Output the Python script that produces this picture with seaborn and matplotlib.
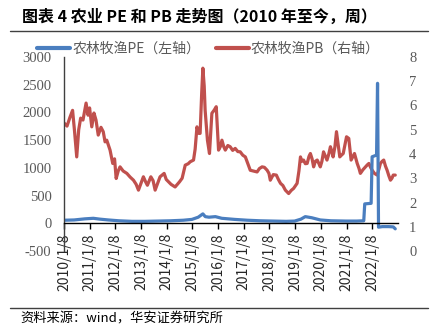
import matplotlib
matplotlib.use("Agg")
import matplotlib.pyplot as plt
from matplotlib.lines import Line2D
import seaborn as sns
import pandas as pd

sns.set_style("white")
plt.rcParams['font.family'] = ['Noto Sans CJK SC', 'DejaVu Sans']
plt.rcParams['axes.unicode_minus'] = False

# ---------------- data ----------------
pe_dates = ["2010-01-08", "2010-06-01", "2010-11-01", "2011-03-01", "2011-06-01", "2011-10-01",
            "2012-03-01", "2012-09-01", "2013-03-01", "2013-09-01", "2014-03-01", "2014-09-01",
            "2015-01-01", "2015-04-01", "2015-06-06", "2015-07-10", "2015-09-01", "2015-12-01",
            "2016-03-01", "2016-09-01", "2017-03-01", "2017-09-01", "2018-03-01", "2018-09-01",
            "2019-01-01", "2019-04-01", "2019-06-01", "2019-09-01", "2020-01-01", "2020-06-01",
            "2021-01-01", "2021-06-01", "2021-09-10", "2021-09-24", "2021-12-24", "2022-01-07",
            "2022-03-11", "2022-03-25", "2022-04-08", "2022-06-01", "2022-09-01", "2022-11-04",
            "2022-12-02"]
pe_values = [55, 60, 80, 90, 75, 60,
             45, 35, 35, 40, 45, 55,
             70, 110, 170, 120, 110, 120,
             90, 70, 55, 45, 40, 35,
             40, 75, 120, 100, 60, 45,
             40, 40, 45, 350, 360, 1200,
             1230, 2525, -70, -60, -60, -65,
             -100]

pb_dates = ["2010-01-08", "2010-02-20", "2010-04-01", "2010-05-10", "2010-06-05", "2010-07-08",
            "2010-08-05", "2010-09-02", "2010-10-05", "2010-11-18", "2010-12-16", "2011-01-07",
            "2011-02-07", "2011-03-10", "2011-04-08", "2011-05-10", "2011-06-18", "2011-07-20",
            "2011-08-15", "2011-09-08", "2011-10-25", "2011-12-02", "2011-12-28", "2012-01-20",
            "2012-02-18", "2012-03-15", "2012-04-28", "2012-06-20", "2012-08-05", "2012-09-22",
            "2012-10-30", "2012-12-02", "2013-01-08", "2013-02-10", "2013-03-14", "2013-04-08",
            "2013-05-27", "2013-06-28", "2013-07-27", "2013-09-02", "2013-10-05", "2013-12-02",
            "2014-01-01", "2014-02-03", "2014-03-10", "2014-05-07", "2014-07-08", "2014-08-15",
            "2014-09-28", "2014-11-10", "2014-12-08", "2015-01-24", "2015-02-16", "2015-03-14",
            "2015-04-08", "2015-04-28", "2015-05-20", "2015-06-06", "2015-06-25", "2015-07-08",
            "2015-08-10", "2015-09-08", "2015-10-12", "2015-11-14", "2015-12-13", "2016-01-15",
            "2016-02-09", "2016-03-03", "2016-03-29", "2016-04-20", "2016-05-26", "2016-06-28",
            "2016-08-03", "2016-09-08", "2016-10-15", "2016-11-18", "2016-12-25", "2017-01-30",
            "2017-03-07", "2017-04-10", "2017-05-22", "2017-07-16", "2017-08-18", "2017-09-25",
            "2017-10-28", "2017-12-06", "2018-01-01", "2018-01-20", "2018-03-03", "2018-04-16",
            "2018-05-15", "2018-06-14", "2018-07-18", "2018-08-22", "2018-10-08", "2018-11-14",
            "2018-12-17", "2019-02-05", "2019-03-03", "2019-03-25", "2019-04-14", "2019-05-08",
            "2019-06-02", "2019-06-28", "2019-07-24", "2019-08-13", "2019-09-06", "2019-09-28",
            "2019-10-23", "2019-11-18", "2019-12-13", "2020-01-01", "2020-01-24", "2020-02-16",
            "2020-03-14", "2020-04-05", "2020-05-01", "2020-05-24", "2020-06-14", "2020-07-01",
            "2020-07-27", "2020-08-18", "2020-09-06", "2020-10-04", "2020-10-27", "2020-11-22",
            "2020-12-17", "2021-01-08", "2021-02-09", "2021-03-14", "2021-04-09", "2021-05-01",
            "2021-06-09", "2021-07-05", "2021-07-24", "2021-08-29", "2021-10-05", "2021-10-30",
            "2021-11-22", "2021-12-16", "2022-01-08", "2022-02-09", "2022-03-20", "2022-04-16",
            "2022-05-05", "2022-05-30", "2022-06-21", "2022-07-16", "2022-08-08", "2022-09-02",
            "2022-09-25", "2022-10-16", "2022-11-03", "2022-12-02"]
pb_values = [5.28, 5.15, 5.5, 5.8, 5.0, 3.88,
             5.0, 5.48, 5.4, 6.1, 5.6, 5.9,
             5.12, 5.69, 5.4, 4.78, 5.1, 4.92,
             4.5, 4.57, 4.16, 3.61, 3.8, 2.99,
             3.3, 3.47, 3.3, 3.2, 3.05, 2.92,
             2.75, 2.51, 2.8, 3.06, 2.85, 2.71,
             3.06, 2.9, 2.51, 2.8, 3.06, 3.2,
             2.95, 2.85, 2.75, 2.64, 2.85, 3.0,
             3.54, 3.6, 3.68, 3.75, 4.2, 5.12,
             4.85, 4.85, 6.5, 7.54, 6.8, 5.81,
             4.57, 4.02, 5.68, 5.81, 5.95, 4.16,
             4.3, 4.57, 4.3, 4.16, 4.35, 4.3,
             4.15, 4.23, 4.1, 4.09, 3.95, 3.88,
             3.6, 3.33, 3.3, 3.26, 3.4, 3.47,
             3.45, 3.33, 3.2, 2.92, 3.15, 3.13,
             2.95, 2.79, 2.7, 2.51, 2.37, 2.5,
             2.58, 2.79, 3.3, 3.88, 3.7, 3.75,
             3.6, 3.61, 3.9, 4.02, 3.8, 3.47,
             3.7, 3.75, 3.6, 3.47, 3.7, 4.09,
             3.9, 3.75, 4.0, 4.3, 4.1, 3.88,
             4.3, 4.92, 4.5, 3.88, 3.95, 4.02,
             4.4, 4.71, 4.64, 3.75, 3.9, 4.02,
             3.61, 3.4, 3.2, 3.35, 3.47, 3.55,
             3.61, 3.45, 3.33, 3.2, 3.13, 3.4,
             3.61, 3.7, 3.75, 3.5, 3.33, 3.1,
             2.92, 3.0, 3.13, 3.13]

tick_dates = ["2010-01-08", "2011-01-08", "2012-01-08", "2013-01-08", "2014-01-08", "2015-01-08",
              "2016-01-08", "2017-01-08", "2018-01-08", "2019-01-08", "2020-01-08", "2021-01-08",
              "2022-01-08"]
tick_labels = ["2010/1/8", "2011/1/8", "2012/1/8", "2013/1/8", "2014/1/8", "2015/1/8",
               "2016/1/8", "2017/1/8", "2018/1/8", "2019/1/8", "2020/1/8", "2021/1/8",
               "2022/1/8"]
left_ticks = [-500, 0, 500, 1000, 1500, 2000, 2500, 3000]
right_ticks = [0, 1, 2, 3, 4, 5, 6, 7, 8]

pe_label = "农林牧渔PE（左轴）"
pb_label = "农林牧渔PB（右轴）"

pe_df = pd.DataFrame({"date": pd.to_datetime(pe_dates), "v": pe_values})
pb_df = pd.DataFrame({"date": pd.to_datetime(pb_dates), "v": pb_values})

# ---------------- figure ----------------
BLUE = "#4A7EBF"
RED = "#C0504D"
GREY = "#595959"
serif = ['Liberation Serif', 'DejaVu Serif']

fig = plt.figure(figsize=(4.3, 3.32), dpi=100)
ax = fig.add_axes([64/430, (332-251)/332, (398-64)/430, (251-57)/332])
ax2 = ax.twinx()

sns.lineplot(data=pb_df, x="date", y="v", ax=ax2, color=RED, linewidth=2.3, legend=False)
sns.lineplot(data=pe_df, x="date", y="v", ax=ax, color=BLUE, linewidth=2.3, legend=False)

ax.set_zorder(ax2.get_zorder() + 1)
ax.patch.set_visible(False)

ax.set_xlim(pd.Timestamp("2010-01-08"), pd.Timestamp("2023-01-10"))
ax.set_ylim(-500, 3000)
ax2.set_ylim(0, 8)

ax.set_xticks(pd.to_datetime(tick_dates))
ax.set_xticklabels(tick_labels)
ax.set_yticks(left_ticks)
ax.set_yticklabels([str(t) for t in left_ticks])
ax2.set_yticks(right_ticks)
ax2.set_yticklabels([str(t) for t in right_ticks])

for lab in ax.get_xticklabels():
    lab.set_fontfamily(serif)
    lab.set_fontsize(10)
    lab.set_color(GREY)
    lab.set_rotation(90)
    lab.set_ha("center")
    lab.set_va("top")
for lab in ax.get_yticklabels() + ax2.get_yticklabels():
    lab.set_fontfamily(serif)
    lab.set_fontsize(10.5)
    lab.set_color(GREY)

ax.set_xlabel("")
ax.set_ylabel("")
ax2.set_xlabel("")
ax2.set_ylabel("")

for a in (ax, ax2):
    for s in ("top", "right"):
        a.spines[s].set_visible(False)
    a.grid(False)
ax2.spines["left"].set_visible(False)
ax2.spines["bottom"].set_visible(False)
ax2.xaxis.set_visible(False)

ax.spines["bottom"].set_position(("data", 0))
ax.spines["bottom"].set_color("black")
ax.spines["bottom"].set_linewidth(1.0)
ax.spines["left"].set_color("#404040")
ax.spines["left"].set_linewidth(1.0)

ax.tick_params(axis="x", direction="out", length=4, width=1, color="black", pad=3, bottom=True,
               labelrotation=90)
ax.tick_params(axis="y", length=0, pad=9)
ax2.tick_params(axis="y", length=0, pad=8)

# legend
handles = [Line2D([], [], color=BLUE, linewidth=3), Line2D([], [], color=RED, linewidth=3)]
fig.legend(handles, [pe_label, pb_label], loc="center left", bbox_to_anchor=(37/430, 1 - 49/332),
           ncol=2, frameon=False, fontsize=10, handlelength=2.4, handletextpad=0.15,
           columnspacing=1.1, labelcolor=GREY, borderaxespad=0, borderpad=0)

# title, rules, source
fig.text(22/430, 1 - 17/332, "图表 4 农业 PE 和 PB 走势图（2010 年至今，周）", fontsize=11.5,
         fontweight="bold", ha="left", va="center", color="black")
fig.add_artist(Line2D([10/430, 428/430], [1 - 30.5/332, 1 - 30.5/332], color="#404040", linewidth=1))
fig.add_artist(Line2D([10/430, 428/430], [1 - 307.5/332, 1 - 307.5/332], color="#404040", linewidth=1))
fig.text(20/430, 1 - 319/332, "资料来源：wind，华安证券研究所", fontsize=9.5, ha="left", va="center",
         color="black")

fig.savefig("out.png", dpi=100)
